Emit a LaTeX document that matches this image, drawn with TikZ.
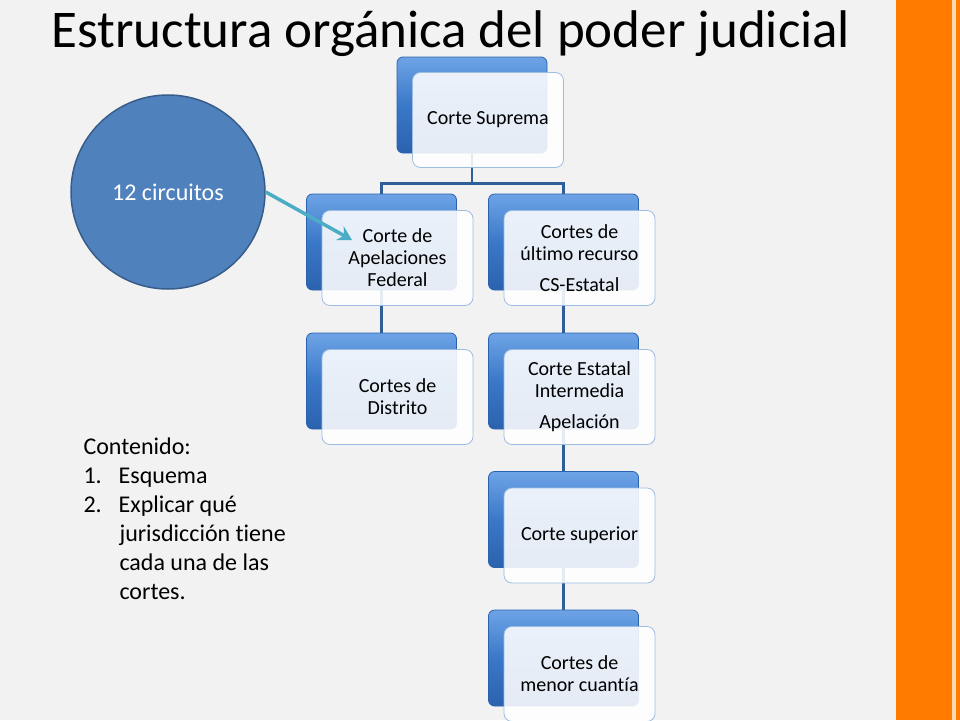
\documentclass[tikz,border=0pt]{standalone}
\usepackage{fontspec}
\setmainfont[Ligatures=NoCommon]{Carlito}
\usetikzlibrary{arrows.meta,shadings}

\definecolor{fondo}{HTML}{F2F2F2}
\definecolor{naranja}{HTML}{FF7C00}
\definecolor{azulcaja}{HTML}{3A78C8}
\definecolor{azulclaro}{HTML}{6EA4E6}
\definecolor{azuloscuro}{HTML}{2B62AE}
\definecolor{bordefrente}{HTML}{9DBCE2}
\definecolor{linea}{HTML}{2F5F98}
\definecolor{circulo}{HTML}{4F81BD}
\definecolor{bordecirculo}{HTML}{385D8A}
\definecolor{flecha}{HTML}{4BACC6}

\tikzset{
  back/.style={rectangle, rounded corners=6pt, minimum width=150pt, minimum height=96pt,
    top color=azulclaro, bottom color=azuloscuro, middle color=azulcaja, draw=azuloscuro, line width=0.8pt},
  front/.style={rectangle, rounded corners=8pt, minimum width=151pt, minimum height=95pt,
    fill=white, fill opacity=0.88, text opacity=1, draw=bordefrente, line width=0.8pt,
    align=center, font=\fontsize{20}{22}\selectfont},
  link/.style={linea, line width=2.5pt}
}

\begin{document}
\begin{tikzpicture}[x=1pt,y=-1pt]

  % fondo y barra lateral
  \fill[fondo] (0,0) rectangle (960,720);
  \fill[naranja] (896,0) rectangle (952,720);
  \fill[naranja!30] (952,0) rectangle (956,720);
  \fill[naranja] (956,0) rectangle (960,720);
  \useasboundingbox (0,0) rectangle (960,720);

  \node[anchor=base west, font=\fontsize{53}{58}\selectfont] (titulo) at (48,47) {Estructura orgánica del poder judicial};

  % cajas de fondo
  \node[back] (sup) at (472,105) {};
  \node[back] (apel) at (381.5,242) {};
  \node[back] (ult) at (563.5,242) {};
  \node[back] (dist) at (381.5,381) {};
  \node[back] (est) at (563.5,381) {};
  \node[back] (supr) at (563.5,519.5) {};
  \node[back] (menor) at (563.5,658) {};

  % conectores
  \draw[link] (sup.south) -- ++(0,30) -| (apel.north);
  \draw[link] (sup.south) -- ++(0,30) -| (ult.north);
  \draw[link] (apel.south) -- (dist.north);
  \draw[link] (ult.south) -- (est.north);
  \draw[link] (est.south) -- (supr.north);
  \draw[link] (supr.south) -- (menor.north);

  % cajas de frente
  \node[front] (supf) at ([shift={(16,15)}]sup.center) {Corte Suprema};
  \node[front] (apelf) at ([shift={(16,16)}]apel.center) {Corte de\\Apelaciones\\Federal};
  \node[front] (ultf) at ([shift={(16,16)}]ult.center) {Cortes de\\último recurso\\[9pt]CS-Estatal};
  \node[front] (distf) at ([shift={(16,16)}]dist.center) {Cortes de\\Distrito};
  \node[front] (estf) at ([shift={(16,16)}]est.center) {Corte Estatal\\Intermedia\\[9pt]Apelación};
  \node[front] (suprf) at ([shift={(16,16)}]supr.center) {Corte superior};
  \node[front] (menorf) at ([shift={(16,16)}]menor.center) {Cortes de\\menor cuantía};

  % circulo y flecha
  \node[circle, minimum size=194pt, fill=circulo, draw=bordecirculo, line width=1.5pt,
    text=white, font=\fontsize{24}{28}\selectfont] (circ) at (168,192) {12 circuitos};
  \coordinate (punta) at (352,240);
  \draw[flecha, line width=3.5pt, -{Stealth[length=14pt, width=16pt, inset=5pt]}] (circ.east) -- (punta);

  % contenido
  \node[anchor=north west, align=left, font=\fontsize{24}{29}\selectfont] (lista) at (80,434) {%
    Contenido:\\
    1.\hspace{17pt}Esquema\\
    2.\hspace{17pt}Explicar qué\\
    \hspace{36pt}jurisdicción tiene\\
    \hspace{36pt}cada una de las\\
    \hspace{36pt}cortes.};

\end{tikzpicture}
\end{document}
